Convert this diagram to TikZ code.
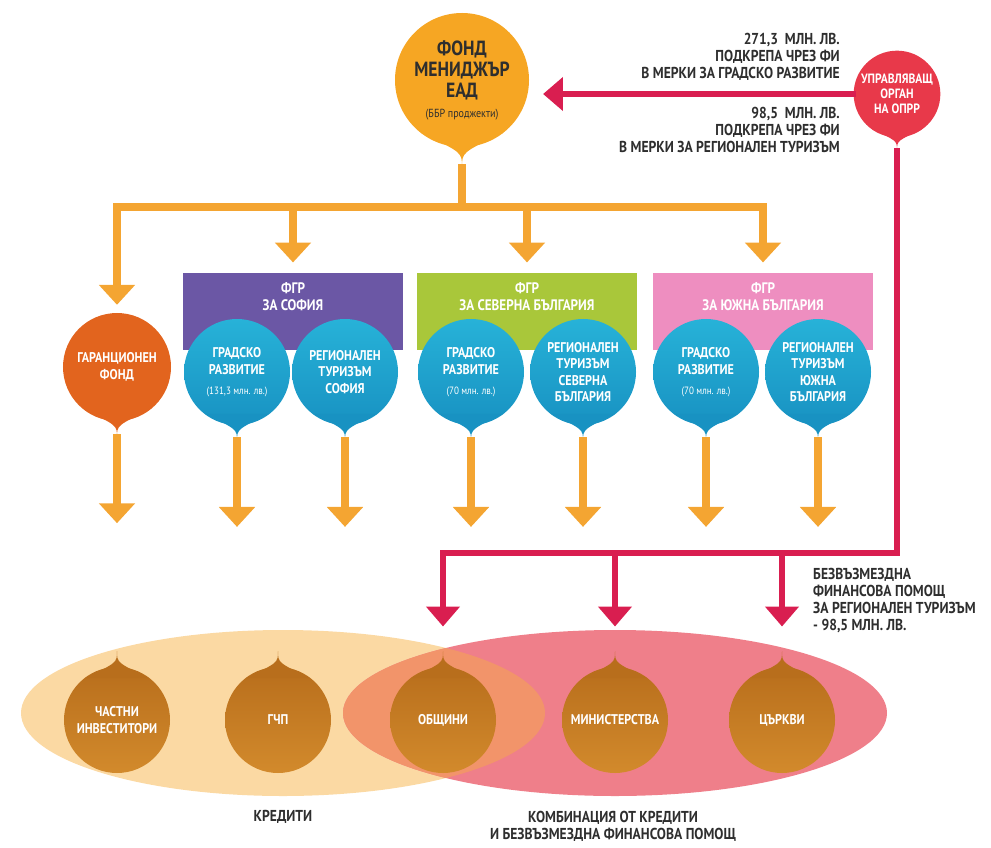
\documentclass[tikz,border=0pt]{standalone}
\usepackage{fontspec}
\setmainfont{PT Sans}[FakeStretch=0.86]
\usetikzlibrary{arrows.meta,calc,positioning}

\definecolor{fundorange}{HTML}{F6A623}
\definecolor{lineorange}{HTML}{F4A532}
\definecolor{authred}{HTML}{E8394A}
\definecolor{linered}{HTML}{D91E50}
\definecolor{guarorange}{HTML}{E2641E}
\definecolor{fgrviolet}{HTML}{6B57A5}
\definecolor{fgrgreen}{HTML}{A9C73A}
\definecolor{fgrpink}{HTML}{EE8EC0}
\definecolor{urbblue}{HTML}{1DA3CA}
\definecolor{urbbluetop}{HTML}{27B2D8}
\definecolor{urbbluelow}{HTML}{1892C2}
\definecolor{bronze}{HTML}{C47A20}
\definecolor{bronzetop}{HTML}{B86E1C}
\definecolor{bronzelow}{HTML}{D28A2C}
\definecolor{creditpeach}{HTML}{FBD9A3}
\definecolor{grantpink}{HTML}{EF7F8A}
\definecolor{mixsalmon}{HTML}{F2946A}
\definecolor{notegray}{HTML}{2E2E2E}

% tip of a drop: node, axis angle, two base angles, colour
\newcommand{\droptip}[5]{%
  \fill[#5] (#1.#3)
    .. controls ($(#1.center)!1.08!(#1.#2)$) .. ($(#1.center)!1.3!(#1.#2)$) coordinate (#1-tip)
    .. controls ($(#1.center)!1.08!(#1.#2)$) .. (#1.#4) -- cycle;}

\tikzset{
  drop/.style={circle, inner sep=0pt, outer sep=0pt, align=center, text=white,
    font=\bfseries\fontsize{12}{14}\selectfont},
  urbdrop/.style={drop, top color=urbbluetop, bottom color=urbbluelow, minimum size=3.18cm},
  bronzedrop/.style={drop, top color=bronzetop, bottom color=bronzelow, minimum size=3.18cm},
  fgrbox/.style={minimum width=6.6cm, minimum height=2.31cm, anchor=north,
    inner sep=0pt, outer sep=0pt},
  boxtext/.style={text=white, align=center, font=\bfseries\fontsize{13}{14.5}\selectfont},
  trunk/.style={draw=lineorange, line width=6pt, line cap=rect},
  flow/.style={trunk, -{Triangle[width=30pt,length=17pt]}},
  grantline/.style={draw=linered, line width=4.5pt, line cap=rect},
  grantflow/.style={grantline, -{Triangle[width=28pt,length=17pt]}},
  note/.style={text=notegray, inner sep=0pt, font=\bfseries\fontsize{13.5}{14.5}\selectfont},
}

\begin{document}
\begin{tikzpicture}[x=0.03cm,y=-0.03cm]
  \useasboundingbox (0,0) rectangle (991,847);

  %Bottom ellipses
  \fill[creditpeach] (283,713) ellipse [x radius=262, y radius=83];
  \fill[grantpink] (615,713) ellipse [x radius=272, y radius=83];
  \begin{scope}
    \clip (283,713) ellipse [x radius=262, y radius=83];
    \fill[mixsalmon] (615,713) ellipse [x radius=272, y radius=83];
  \end{scope}

  %FGR boxes
  \node[fgrbox, fill=fgrviolet] (fgrsof) at (293,273) {};
  \node[fgrbox, fill=fgrgreen] (fgrnor) at (527,273) {};
  \node[fgrbox, fill=fgrpink] (fgrsou) at (763,273) {};
  \node[boxtext, below=5pt of fgrsof.north] (tsof) {ФГР\\ЗА СОФИЯ};
  \node[boxtext, below=5pt of fgrnor.north] (tnor) {ФГР\\ЗА СЕВЕРНА БЪЛГАРИЯ};
  \node[boxtext, below=5pt of fgrsou.north] (tsou) {ФГР\\ЗА ЮЖНА БЪЛГАРИЯ};

  %Fund manager and managing authority
  \node[drop, fill=fundorange, minimum size=4.02cm, text=notegray,
    font=\bfseries\fontsize{17.5}{18}\selectfont] (fm) at (462,80)
    {ФОНД\\МЕНИДЖЪР\\ЕАД\\[-1pt]{\mdseries\fontsize{10}{11}\selectfont(ББР проджекти)}};
  \droptip{fm}{-90}{-128}{-52}{fundorange}
  \node[drop, fill=authred, minimum size=2.6cm, font=\bfseries\fontsize{11.5}{13}\selectfont]
    (ma) at (897,94) {УПРАВЛЯВАЩ\\ОРГАН\\НА ОПРР};
  \droptip{ma}{-90}{-125}{-55}{authred}

  %Guarantee fund and urban / tourism funds
  \node[drop, fill=guarorange, minimum size=3.24cm] (gf) at (117,367) {ГАРАНЦИОНЕН\\ФОНД};
  \droptip{gf}{-90}{-128}{-52}{guarorange}
  \node[urbdrop] (sofurb) at (237,372)
    {ГРАДСКО\\РАЗВИТИЕ\\[3pt]{\mdseries\fontsize{9}{10}\selectfont(131,3 млн. лв.)}};
  \node[urbdrop] (softour) at (345,372) {РЕГИОНАЛЕН\\ТУРИЗЪМ\\СОФИЯ};
  \node[urbdrop] (norurb) at (471,372)
    {ГРАДСКО\\РАЗВИТИЕ\\[3pt]{\mdseries\fontsize{9}{10}\selectfont(70 млн. лв.)}};
  \node[urbdrop] (nortour) at (583,372) {РЕГИОНАЛЕН\\ТУРИЗЪМ\\СЕВЕРНА\\БЪЛГАРИЯ};
  \node[urbdrop] (souurb) at (706,372)
    {ГРАДСКО\\РАЗВИТИЕ\\[3pt]{\mdseries\fontsize{9}{10}\selectfont(70 млн. лв.)}};
  \node[urbdrop] (soutour) at (818,372) {РЕГИОНАЛЕН\\ТУРИЗЪМ\\ЮЖНА\\БЪЛГАРИЯ};
  \foreach \n in {sofurb,softour,norurb,nortour,souurb,soutour}
    \droptip{\n}{-90}{-128}{-52}{urbbluelow};

  %Final recipients
  \node[bronzedrop] (priv) at (117,720) {ЧАСТНИ\\ИНВЕСТИТОРИ};
  \node[bronzedrop] (ppp) at (278,720) {ГЧП};
  \node[bronzedrop] (munic) at (443,720) {ОБЩИНИ};
  \node[bronzedrop] (minis) at (615,720) {МИНИСТЕРСТВА};
  \node[bronzedrop] (church) at (782,720) {ЦЪРКВИ};
  \foreach \n in {priv,ppp,munic,minis,church}
    \droptip{\n}{90}{52}{128}{bronzetop};

  %Orange flows
  \coordinate (split) at (462,207);
  \draw[trunk] (fm-tip) -- (split);
  \draw[trunk] (gf.north |- split) -- (fgrsou.north |- split);
  \draw[flow, shorten >=7pt] (gf.north |- split) -- (gf.north);
  \draw[flow, shorten >=9pt] (fgrsof.north |- split) -- (fgrsof.north);
  \draw[flow, shorten >=9pt] (fgrnor.north |- split) -- (fgrnor.north);
  \draw[flow, shorten >=9pt] (fgrsou.north |- split) -- (fgrsou.north);
  \foreach \n in {gf,sofurb,softour,norurb,nortour,souurb,soutour}
    \draw[flow] (\n-tip) -- ++(0,86);

  %Red flows
  \coordinate (rjoin) at (munic.center |- 0,553);
  \draw[grantflow, shorten >=12pt] (ma.west) -- (fm.east |- ma.west);
  \draw[grantline] (ma-tip) -- (ma-tip |- rjoin) -- (rjoin);
  \foreach \n in {munic,minis,church}
    \draw[grantflow, shorten >=21pt] (\n-tip |- rjoin) -- (\n-tip);

  %Texts
  \node[note, align=right, anchor=east] (upnote) at (840,57)
    {271,3 \ МЛН. ЛВ.\\ПОДКРЕПА ЧРЕЗ ФИ\\В МЕРКИ ЗА ГРАДСКО РАЗВИТИЕ};
  \node[note, align=right, anchor=east] (lownote) at (840,130)
    {98,5 \ МЛН. ЛВ.\\ПОДКРЕПА ЧРЕЗ ФИ\\В МЕРКИ ЗА РЕГИОНАЛЕН ТУРИЗЪМ};
  \node[note, align=left, anchor=west] (grantnote) at (813,601)
    {БЕЗВЪЗМЕЗДНА\\ФИНАНСОВА ПОМОЩ\\ЗА РЕГИОНАЛЕН ТУРИЗЪМ\\- 98,5 МЛН. ЛВ.};
  \node[note] (credits) at (283,817) {КРЕДИТИ};
  \node[note, align=center] (mixed) at (613,826)
    {КОМБИНАЦИЯ ОТ КРЕДИТИ\\И БЕЗВЪЗМЕЗДНА ФИНАНСОВА ПОМОЩ};
\end{tikzpicture}
\end{document}
